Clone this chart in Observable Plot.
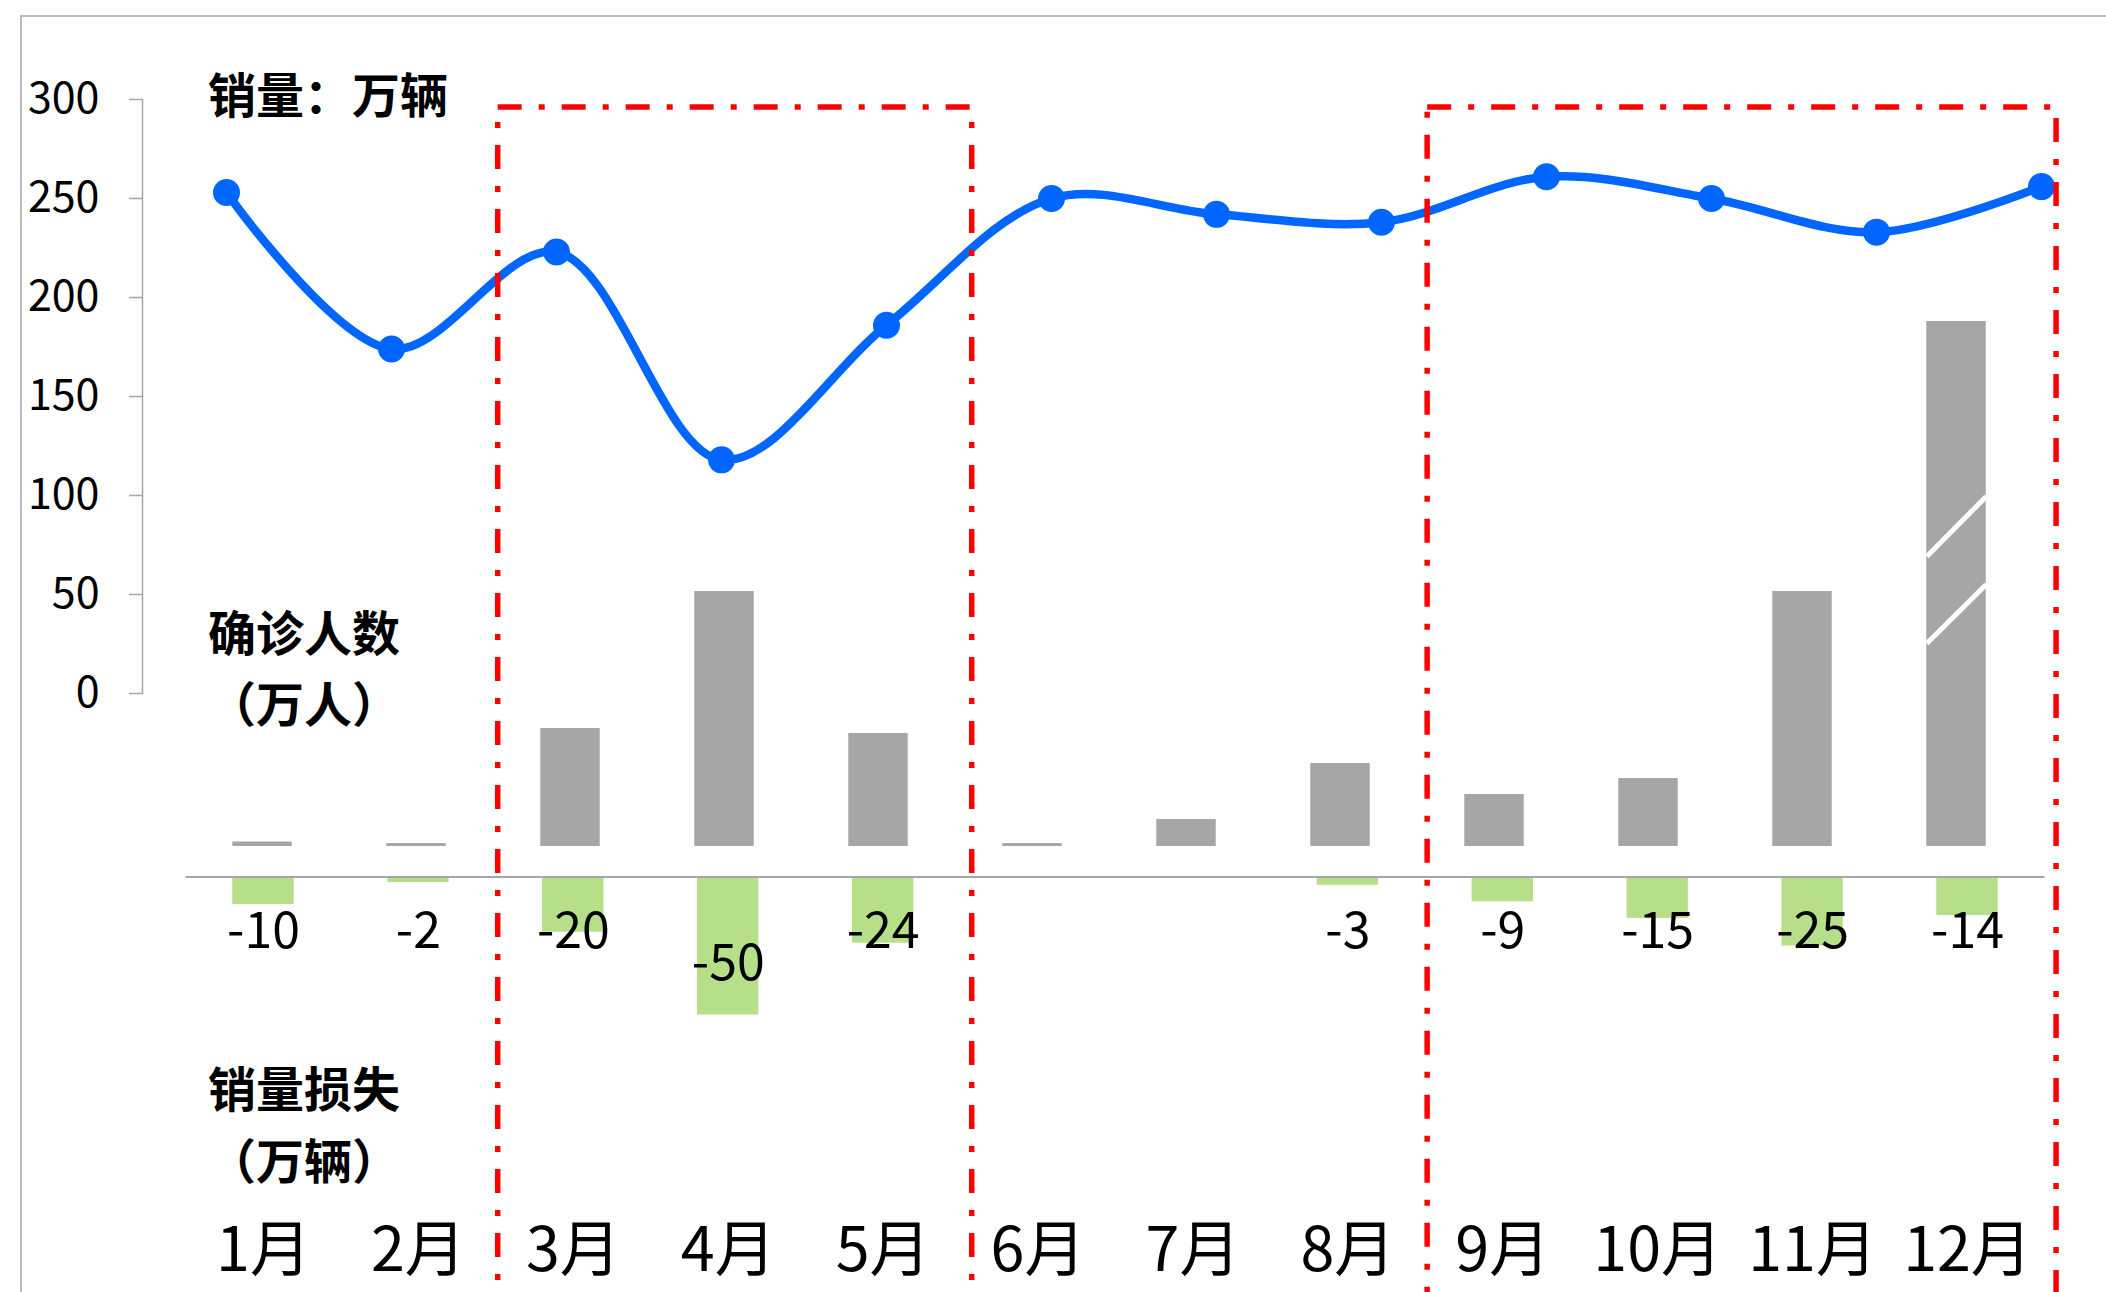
<!DOCTYPE html>
<html>
<head>
<meta charset="utf-8">
<script src="https://cdn.jsdelivr.net/npm/d3@7"></script>
<script src="https://cdn.jsdelivr.net/npm/@observablehq/plot@0.6"></script>
<style>
html,body{margin:0;padding:0;background:#fff;overflow:hidden}
#wrap{position:relative;width:2106px;height:1292px;overflow:hidden;background:#fff;font-family:"Noto Sans CJK SC","Noto Sans",sans-serif}
#wrap svg{position:absolute;left:0;top:0;overflow:visible;background:transparent}
.frame{position:absolute;left:20px;top:15px;width:3000px;height:3000px;border:2px solid #bcbcbc}
.note{position:absolute;left:208px;font-weight:700;font-size:48px;line-height:1;white-space:nowrap;color:#000}
</style>
</head>
<body>
<div id="wrap">
  <div class="frame"></div>
</div>
<script>
// ---------- data ----------
const months = ["1月","2月","3月","4月","5月","6月","7月","8月","9月","10月","11月","12月"];
const sales = [253, 174, 223, 118, 186, 250, 242, 238, 261, 250, 233, 256];      // 销量（万辆）
const salesTicks = [0, 50, 100, 150, 200, 250, 300];
const cases = [0.9, 0.6, 23.6, 51, 22.6, 0.6, 5.4, 16.6, 10.4, 13.6, 51, 105];   // 确诊人数（万人）
const losses = [-10, -2, -20, -50, -24, null, null, -3, -9, -15, -25, -14];       // 销量损失（万辆）
const highlightStart = ["3月", "9月"];
const highlightEnd = ["5月", "12月"];
const breakMonth = ["12月", "12月"];
const breakFrom = [40.6, 58];
const breakTo = [52.4, 70];

// ---------- tables ----------
const idx = m => months.indexOf(m) + 1;
const salesData = months.map((m, i) => ({month: m, value: sales[i]}));
const caseData = months.map((m, i) => ({m: i + 1, value: cases[i]}));
const lossData = months.map((m, i) => ({m: i + 1, value: losses[i]})).filter(d => d.value != null);
const breaks = breakMonth.map((m, i) => ({m: idx(m), from: breakFrom[i], to: breakTo[i]}));
const boxes = highlightStart.map((s, i) => ({start: idx(s), end: idx(highlightEnd[i])}));

const W = 2106, H = 1292;
const FONT = '"Noto Sans CJK SC","Noto Sans",sans-serif';
const baseStyle = {fontFamily: FONT, color: "black", background: "transparent", overflow: "visible"};
const GRAY = "#a6a6a6", GREEN = "#b7df89", BLUE = "#0066ff", RED = "#ff0000";
const wrap = document.getElementById("wrap");

// ---------- gray bars: 确诊人数 ----------
const HW = 0.193;
const grayPlot = Plot.plot({
  width: W, height: H, margin: 0,
  style: baseStyle,
  x: {domain: [1, 12], range: [262, 1956], axis: null},
  y: {domain: [0, 100], range: [846, 346], axis: null},
  marks: [
    Plot.rect(caseData, {x1: d => d.m - HW, x2: d => d.m + HW, y1: 0, y2: "value", fill: GRAY}),
    Plot.link(breaks, {x1: d => d.m - HW, x2: d => d.m + HW, y1: "from", y2: "to", stroke: "white", strokeWidth: 5})
  ]
});
wrap.appendChild(grayPlot);

// ---------- green bars: 销量损失 + month labels ----------
const HWG = 0.198;
const greenPlot = Plot.plot({
  width: W, height: H, marginTop: 0, marginBottom: 41, marginLeft: 0, marginRight: 0,
  style: baseStyle,
  x: {domain: [1, 12], range: [263, 1967], axis: null},
  y: {domain: [-50, 0], range: [1014.5, 876.5], axis: null},
  marks: [
    Plot.rect(lossData, {x1: d => d.m - HWG, x2: d => d.m + HWG, y1: 0, y2: "value", fill: GREEN}),
    Plot.ruleY([0], {x1: 0.5, x2: 12.5, stroke: GRAY, strokeWidth: 2}),
    Plot.text(lossData, {x: "m", y: d => d.value <= -40 ? d.value + 18.6 : -19.9, text: d => String(d.value),
      fontSize: 50, lineAnchor: "middle", fill: "black"}),
    Plot.text(months, {x: (d, i) => i + 1, text: d => d, frameAnchor: "bottom", lineAnchor: "middle",
      fontSize: 61, fill: "black"})
  ]
});
wrap.appendChild(greenPlot);

// ---------- sales line ----------
const linePlot = Plot.plot({
  width: W, height: H, marginTop: 99, marginBottom: 599, marginLeft: 142, marginRight: 0,
  style: {...baseStyle, fontSize: "43px"},
  x: {type: "point", domain: months, range: [226, 2041], padding: 0, axis: null},
  y: {domain: [0, 300]},
  marks: [
    Plot.frame({anchor: "left", stroke: GRAY, strokeWidth: 1.5}),
    Plot.axisY({ticks: salesTicks, tickSize: 13, tickPadding: 30, stroke: GRAY, strokeWidth: 1.5, fill: "black", label: null, fontSize: 43}),
    Plot.line(salesData, {x: "month", y: "value", curve: "catmull-rom", stroke: BLUE, strokeWidth: 8.5}),
    Plot.dot(salesData, {x: "month", y: "value", r: 13.5, fill: BLUE})
  ]
});
wrap.appendChild(linePlot);

// ---------- highlight boxes ----------
const boxPlot = Plot.plot({
  width: W, height: 1360, marginTop: 107, marginBottom: 0, marginLeft: 0, marginRight: 0,
  style: baseStyle,
  x: {domain: [1, 12], range: [263, 1967], axis: null},
  marks: [
    Plot.rect(boxes, {x1: d => d.start - 0.485, x2: d => d.end + 0.575, fill: "none", stroke: RED,
      strokeWidth: 5.5, strokeDasharray: "24,17,6,17"})
  ]
});
wrap.appendChild(boxPlot);

// ---------- annotations ----------
const notes = [["销量：万辆", 68], ["确诊人数", 606], ["（万人）", 677], ["销量损失", 1062], ["（万辆）", 1134]];
for (const [t, top] of notes) {
  const d = document.createElement("div");
  d.className = "note";
  d.style.top = top + "px";
  d.textContent = t;
  wrap.appendChild(d);
}
</script>
</body>
</html>
